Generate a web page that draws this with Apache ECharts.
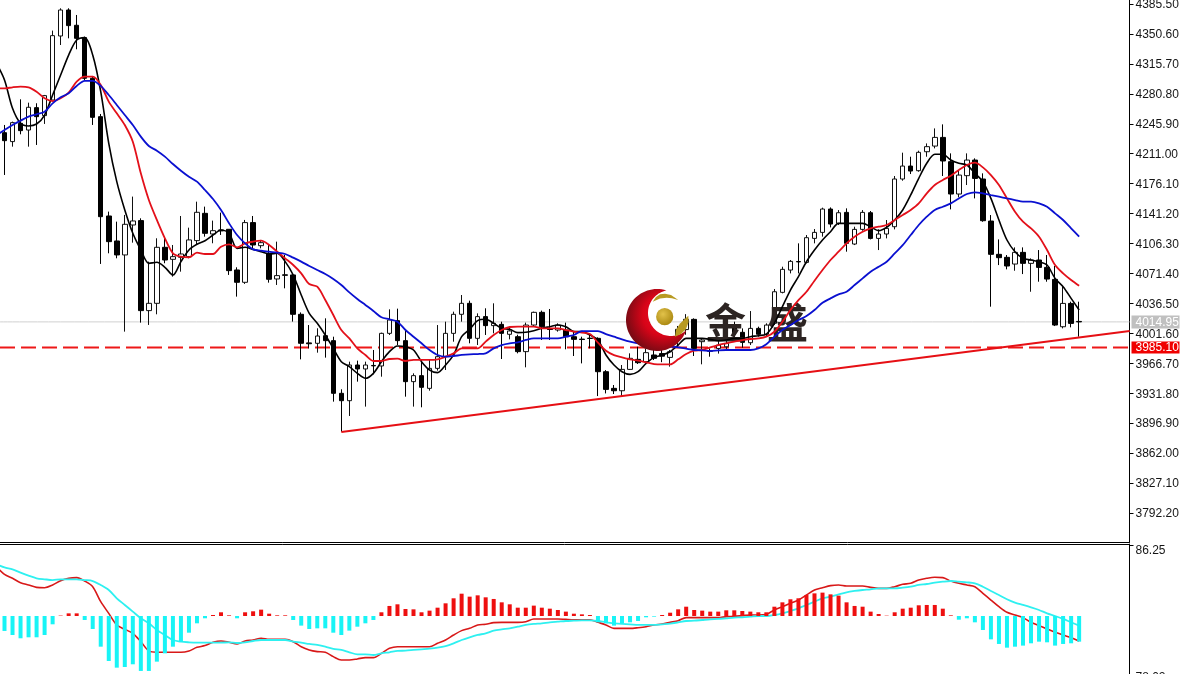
<!DOCTYPE html>
<html><head><meta charset="utf-8">
<style>html,body{margin:0;padding:0;background:#fff;overflow:hidden}#c{width:1180px;height:674px}</style>
<script src="https://cdn.jsdelivr.net/npm/echarts@6/dist/echarts.min.js"></script>
</head><body><div id="c"></div>
<script>
const priceTicks=[4385.5,4350.6,4315.7,4280.8,4245.9,4211,4176.1,4141.2,4106.3,4071.4,4036.5,4001.6,3966.7,3931.8,3896.9,3862,3827.1,3792.2];
const bidPrice=4014.95;
const alertPrice=3985.10;
const macdTop=86.25;
const macdBottomTick=-68;
const macdBottomLabel="78.02";
const trendIdx=[43,141.3];
const trendVal=[3886.6,4004.3];
// [open, close, low, high]; the first bar lies just off the left edge
const candles=[
[4222,4230,4210,4240],
[4235.5,4226.2,4186.2,4244.5],[4225.1,4247.2,4219.2,4248.4],[4246.4,4237.9,4233.6,4274.4],[4238.6,4265.1,4219.2,4270.5],[4264.7,4254.2,4221.2,4269.8],
[4255.4,4278.7,4245.7,4279.5],[4273.6,4348.6,4273.6,4354.5],[4348.2,4378.5,4337.7,4380.5],[4378.5,4360.3,4345.5,4380.5],[4360.7,4345.5,4332.7,4372.7],
[4346.3,4298.9,4296.9,4347.5],[4298.9,4253.4,4244.5,4301.6],[4254.2,4137.6,4082.5,4257.3],[4138.4,4108.5,4094.9,4143.5],[4109.3,4093,4089.1,4131.8],
[4093,4128.7,4003.6,4139.6],[4127.9,4132.6,4107.3,4161],[4133,4028.1,4014.1,4135.7],[4028.1,4036.6,4011.4,4085.2],[4036.6,4101.9,4023.8,4112.4],
[4101.9,4087.1,4083.3,4114.3],[4087.9,4091,4067.7,4104.6],[4090.2,4094.1,4073.5,4138.4],[4091,4110.5,4089.1,4124.8],[4109.7,4142.7,4104.6,4155.1],
[4141.5,4118.2,4114.3,4149.3],[4117.4,4121.3,4106.6,4133],[4122.1,4121,4116.3,4142.3],[4122.9,4074.7,4069.7,4122.9],[4075.5,4061.1,4044.4,4078.6],
[4061.1,4130.7,4059.2,4133.8],[4130.7,4104.6,4100.7,4138.4],[4103.8,4107.3,4100.7,4110.5],[4094.9,4064.6,4060.7,4104.6],[4065,4068.9,4058,4108.5],
[4069.8,4069.3,4054.1,4093],[4069.7,4023.8,4015.3,4071.6],[4023.8,3990,3971.3,4026],[3990.5,3989.5,3984.1,4011.3],[3990,3998.5,3979.1,4007.5],
[3998.9,3993.1,3973.3,4019.1],[3993.1,3931.7,3922,3997.7],[3931.7,3923.1,3887,3936.4],[3923.1,3964.7,3905.3,3968.6],[3964.7,3960.1,3945.3,3969.8],
[3960.1,3964.7,3916.2,3968.6],[3964.2,3963.7,3953.8,3982.2],[3963.6,4001.6,3951.1,4002.4],[4001.6,4017.2,3999.7,4029.6],[4016.4,3993.1,3988,4030.4],
[3993.1,3945.3,3927.8,4005.5],[3945.3,3952.3,3916.2,3955],[3952.3,3938.7,3915.4,3970.6],[3937.5,3960.8,3934.8,3970.6],[3960.8,3974.4,3958.1,4011.3],
[3974.4,4001.6,3958.9,4015.2],[4001.6,4023.8,3991.9,4026.9],[4023.8,4036.6,4015.2,4046.3],[4036.6,3995.8,3990,4039.7],[3995.8,4021.1,3988,4024.9],
[4021.1,4010.6,3999.7,4030.8],[4010.6,4013.3,4001.6,4036.6],[4012.1,4001.6,3971.7,4015.2],[4000.5,4004.4,3994.6,4009.4],[3997.7,3980.3,3978.3,4000],
[3980.3,4011.3,3962,4014.1],[4011.3,4026.1,4009.4,4026.9],[4026.1,4009.4,3993.9,4028.1],[4006.6,4006.1,3993.9,4030],[4005.5,4011.3,4003.6,4013.3],
[4005.5,3997.7,3983,4014.1],[3997.7,3994.6,3975.2,4003.6],[3994.9,3994.4,3966.6,3997.7],[3996,3995.6,3984.1,3999.7],[3995.8,3956.9,3928.5,3997],
[3956.9,3936.3,3931.6,3958.8],[3937.5,3934.7,3930.9,3941.4],[3934.7,3959.6,3928.5,3964.7],[3959.6,3972.5,3958.9,3978.3],[3971.3,3967.4,3965.9,3986],
[3968.6,3979.1,3966.6,3984.1],[3976.4,3972.5,3970.5,3982.2],[3978,3975,3968,3985],[3973.6,3980.2,3962.8,3982.2],[3997.7,4006.3,3985.3,4010.2],
[4006,4018,4000,4024],[4017.9,3984.1,3975.2,4019.1],[3991.9,3993.8,3965.5,3995.8],[3981.2,3980.8,3974.4,3984.1],[3984,3988,3978,3993],
[3986,3990,3982,4000],[4011.3,4002.4,3991.9,4015.2],[4002.8,3991.1,3984.9,4007.4],[3990.7,4007.4,3988,4027.6],[4007.4,4000.5,3997.7,4009.4],
[4000.5,4011.3,3997.7,4013.3],[4013.3,4050.1,4011.3,4053.3],[4049.4,4076.2,4048.2,4079.3],[4075.4,4085.5,4071.5,4087.1],[4085.3,4084.9,4071.5,4106.5],
[4084.3,4113.1,4083.2,4116.2],[4112.3,4119.3,4106.5,4123.2],[4119.3,4146.5,4114.3,4148.1],[4146.5,4129,4125.1,4148.4],[4129.8,4142.2,4127.9,4145.3],
[4142.6,4106.5,4096.8,4147.3],[4105.7,4122.8,4104.5,4125.9],[4122.8,4142.6,4121.2,4145.3],[4142.2,4112.3,4111.1,4144.2],[4112.3,4117.4,4098.7,4122.8],
[4117.4,4124,4112.3,4133.7],[4125.9,4181.5,4122.8,4185],[4181.5,4196.6,4179.5,4212.2],[4196.6,4190.8,4187.3,4207.5],[4191.2,4212.6,4190,4214.5],
[4213.3,4219.2,4207.5,4223],[4219.9,4230,4217.2,4240.5],[4230,4202.5,4185,4245.2],[4201.7,4164,4146.1,4211.4],[4164,4186.1,4160.1,4192],
[4185.4,4203.6,4174.5,4211.4],[4203.6,4182.2,4158.9,4205.6],[4181.5,4132.9,4131.7,4188.1],[4132.5,4093.7,4032.7,4139.5],[4093.7,4089.8,4081.2,4111.1],
[4090.2,4080.1,4076.2,4092.9],[4082.4,4096,4074.6,4101.8],[4096,4083.2,4070.7,4101.8],[4083.2,4087.1,4050.1,4089],[4087.1,4078.5,4061.8,4098.7],
[4078.5,4064.9,4061.8,4092.9],[4064.5,4011.3,4010.1,4080.1],[4009.3,4036.5,4007.4,4056],[4036.5,4013.2,4008.6,4038.5],[4015.5,4014.95,3997.7,4038.5]
];
const maFast=[4316.4,
4296.9,4263.9,4246.4,4243.3,4245.6,4256.1,4279.4,4302.7,4326,4343.5,4346.3,4326,4283.3,4223.1,4178.4,4145.4,4118.2,4098.8,4083.2,4084.4,
4078.6,4069.6,4085.2,4098.8,4105.4,4109.6,4116.2,4122.1,4118.2,4100.7,4101.9,4099.5,4096.8,4094.1,4094.9,4085.2,4069.6,4046.3,4024.9,4013.3,
3999.7,3984.1,3968.6,3962.8,3955,3949.2,3955,3968.6,3980.3,3986.9,3986.1,3982.2,3968.6,3958.9,3955.8,3964.7,3976.4,3997.7,4006.3,4016.4,
4018,4013.3,4007.5,4006.3,4002.4,4002.8,4004.7,4007.5,4009.4,4011.3,4009.4,4003.6,4003.6,3999.7,3993.8,3976.4,3964.7,3956.9,3953.8,3956.9,
3966.6,3973.6,3976.3,3980.2,3988,3995.7,3995.7,3995.7,3994.6,3993,3993.8,3995.7,3995.7,3997.7,3998.9,4000.8,4013.3,4032.7,4052.1,4067.7,
4085.1,4098.7,4110.4,4120.1,4129.8,4129.8,4129.8,4129.8,4125.9,4121.3,4125.1,4133.7,4145.4,4162.9,4182.3,4199.8,4210.3,4210.3,4203.6,4199.8,
4197.8,4188.1,4178.4,4158.9,4133.7,4110.4,4096.8,4089,4087.1,4085.1,4081.2,4065.7,4056,4042.4,4028.8];
const maMid=[4287.2,
4287.2,4288.4,4289.1,4288.4,4283.3,4275.6,4272.4,4275.6,4282.2,4295,4300.8,4300.8,4291.1,4271.7,4258.1,4244.5,4225,4188.1,4157,4133.8,
4112.4,4094.9,4091,4090.2,4095.6,4094.1,4094.1,4102.6,4105.4,4101.9,4106.5,4108.5,4109.6,4104.6,4096.8,4089,4081.3,4071.6,4059.1,4056,
4040.5,4023,4005.5,3995.8,3984.1,3976.4,3969.4,3969.4,3971.7,3972.1,3969.4,3970.6,3970.6,3970.6,3971.3,3974.4,3978.3,3984.1,3984.1,3984.1,
3991.9,3999.7,4005.5,4009,4009.4,4009.4,4009.4,4007.5,4007.5,4007.5,4005.5,4003.6,4002.4,4000.8,3990.7,3981.4,3976.3,3973.6,3971.3,3969.7,
3967.8,3965.8,3965.4,3965.4,3971.3,3977.5,3981.4,3982.2,3985.3,3988,3990,3991.9,3993.8,3995,3995.7,3997.7,4003.5,4015.2,4028.8,4040.4,
4050.1,4063,4075.4,4087.1,4096.8,4106.5,4114.3,4120.1,4124,4125.9,4127.9,4133.7,4139.5,4145.4,4153.1,4164.8,4174.5,4180.3,4185.4,4192,
4197.8,4200.5,4195.1,4186.1,4174.5,4158.9,4143.4,4131.7,4124,4114.3,4098.7,4081.2,4071.5,4063.8,4057.1];
const maSlow=[4232.8,
4238.6,4244.5,4249.5,4254.2,4256.9,4260,4269.7,4276.7,4281.4,4290,4295.8,4295.8,4290,4279.4,4267.8,4256.1,4244.5,4230.9,4220,4214.5,
4207.6,4199,4191.2,4184.2,4178.4,4168.7,4158.2,4145.4,4129.9,4116.2,4106.5,4099.5,4098,4096.8,4095.7,4094.1,4089.8,4085.2,4080.1,4075.4,
4070.8,4065,4058,4049.4,4041.7,4034.7,4027.7,4020.3,4018,4015.2,4005.5,3997.7,3990,3982.2,3976.4,3974.4,3975.2,3976.4,3977.2,3977.5,
3978.3,3984.1,3988,3990,3991.1,3993.9,3995.8,3995.8,3995.8,3995.8,3997.7,3999.7,4004.3,4004.3,4004.3,4000.8,3997.7,3994.6,3991.9,3990,
3989.2,3988,3986.9,3986,3985.3,3983.7,3982.2,3981.8,3981,3981.8,3982.2,3982.2,3982.2,3982.2,3984.1,3989,3997.7,4005.5,4011.3,4017.1,
4021.8,4028.8,4037.3,4042.4,4047,4050.1,4057.9,4065.7,4073.5,4079.3,4085.1,4094.8,4104.5,4116.2,4127.9,4137.6,4145.4,4149.2,4153.1,4158.9,
4164,4166,4164.8,4162.8,4160.9,4158.9,4157,4155.1,4155.1,4153.1,4149.2,4141.5,4133.7,4124,4114.3];
const macdHist=[-14,
-18.2,-23.1,-27.1,-25.9,-25.9,-23.1,-10.1,0.5,3.2,3.2,-4.9,-15.8,-37.3,-54.7,-62.8,-62,-58.7,-66.8,-66.8,-55.5,
-45.4,-37.3,-31.2,-20.3,-8.9,-2.8,1.2,4.5,0.8,-2.8,4.5,5.7,7.7,2.8,0.8,0.8,-4.9,-11.7,-15.8,-15,
-15,-20.3,-23.1,-17.8,-13,-8.9,-4.9,4.5,12.2,14.2,8.5,8.1,4.5,6.5,10.1,15.4,21.5,27.1,23.5,25.1,
22.7,20.7,16.6,14.2,10.1,10.1,12.6,10.1,8.9,7.3,5.3,2.8,2,1.2,-7.7,-8.9,-11.7,-8.9,-7.7,-6.1,
-1.6,-0.8,1.2,4,8.1,11.3,7.3,6.5,5.3,5.3,6.9,6.9,6.1,5.3,4.5,4.5,11.3,16.6,20.3,21.5,
25.5,27.5,28.4,26.3,24.7,16.6,12.2,11.3,5.3,2.4,0.4,4.5,8.9,10.1,13,13.4,13.4,8.9,0.8,-4.5,
-2.8,-7.7,-17,-28.4,-34,-38.5,-37.3,-36,-33.2,-31.2,-32,-36,-34,-33.2,-31.2];
const macdRed=[60,
50.6,45.8,40.5,37.7,34.8,34.4,37.7,42.9,45.8,46.6,42.5,35.6,17.4,3.2,-10.9,-16.2,-21.1,-31.2,-42.5,-44.1,
-44.1,-44.1,-44.1,-42.5,-38.1,-36,-32,-30.4,-32,-34,-30.4,-29.2,-27.1,-28.4,-28.4,-28.4,-31.2,-37.3,-41.3,-43.3,
-44.1,-49.4,-53.5,-53.5,-52.2,-50.6,-50.6,-45.4,-39.3,-37.3,-37.3,-37.3,-37.3,-37.3,-33.2,-29.2,-23.1,-17.8,-15,-10.9,
-10.1,-8.1,-7.7,-7.7,-7.7,-6.9,-3.6,-3.6,-3.6,-3.6,-4.1,-4.5,-4.5,-4.5,-7.7,-10.9,-15,-15,-15,-14.2,
-13,-10.9,-9.7,-7.7,-5.7,-2,-2,-2,-2,-2,-0.8,-0.4,0.4,1.2,1.2,2,7.3,11.3,15.4,19.4,
25.5,31.6,34.4,36.9,37.7,36.5,36.5,36.5,34.8,33.6,33.6,35.6,38.5,39.7,43.7,45.8,47,46.6,42.5,39.7,
37.7,35.6,27.5,19.4,11.3,4.5,1.2,-2,-7.7,-11.7,-15.8,-19.8,-23.1,-26.3,-30.4];
const macdCyan=[62.8,
59.1,56.7,52.7,49,45.8,44.6,43.7,44.6,44.6,44.6,43.7,42.5,37.7,31.6,21.5,13.4,5.3,-2.8,-8.9,-17,
-23.1,-29.2,-31.2,-32,-32.4,-32.4,-32.4,-32.4,-32,-32.8,-32,-30.4,-29.2,-29.2,-29.2,-29.2,-31.2,-32.4,-34,-35.2,
-37.3,-40.1,-41.3,-44.1,-46.6,-46.6,-47.4,-45.4,-44.1,-42.5,-42.1,-41.3,-40.5,-39.7,-38.5,-36.5,-33.2,-29.2,-25.9,-23.1,
-21.1,-17.8,-16.2,-15,-13,-10.9,-9.7,-8.9,-7.7,-6.9,-6.1,-5.7,-5.3,-5.3,-6.1,-7.7,-8.9,-9.7,-10.1,-10.9,
-10.9,-10.9,-10.1,-9.3,-7.7,-6.1,-5.7,-4.9,-4.1,-3.6,-2.8,-2,-1.6,-0.8,0,0,1.2,3.2,6.1,9.3,
13.4,17.4,21.5,23.5,26.3,28.8,30.4,31.6,32.4,33.6,33.6,33.6,34.4,35.6,37.7,38.9,40.5,41.7,42.5,41.7,
40.9,39.7,35.6,30.4,25.5,20.3,16.2,13.4,10.5,7.3,3.2,0,-3.6,-7.7,-11.7];

const xMin=0.439,xMax=141.28;
const pairs=a=>a.map((v,i)=>[i,v]);
const font='"Liberation Sans",Arial,sans-serif';
const line=(data,color,width,x,z)=>({type:'line',xAxisIndex:x,yAxisIndex:x,data,showSymbol:false,symbol:'none',smooth:0.3,z,silent:true,animation:false,lineStyle:{color,width}});
const chart=echarts.init(document.getElementById('c'),null,{renderer:'canvas'});
// logo crescent outline: big circle with a smaller circle bitten out
function crescent(cx,cy,R,wx,wy,r){
 const d=Math.hypot(wx-cx,wy-cy),a=Math.atan2(wy-cy,wx-cx),pts=[];
 const b=Math.acos((d*d+R*R-r*r)/(2*d*R)),g=Math.acos((d*d+r*r-R*R)/(2*d*r)),a2=a+Math.PI,N=60;
 for(let k=0;k<=N;k++){const t=a+b+(2*Math.PI-2*b)*k/N;pts.push([cx+R*Math.cos(t),cy+R*Math.sin(t)]);}
 for(let k=0;k<=N;k++){const t=a2+g-2*g*k/N;pts.push([wx+r*Math.cos(t),wy+r*Math.sin(t)]);}
 return pts;
}
const labelRich={n:{color:'#151515',fontFamily:font,fontSize:12,padding:[2,0,0,4]},
  g:{backgroundColor:'#c0c0c0',color:'#fff',fontFamily:font,fontSize:12,padding:[1,0,0,4],width:44,height:12},
  r:{backgroundColor:'#f00000',color:'#fff',fontFamily:font,fontSize:12,padding:[0,0,0,4],width:44,height:12}};
chart.setOption({
 animation:false,backgroundColor:'#fff',
 grid:[{left:0,top:0,width:1129.5,height:542,outerBoundsMode:'none'},{left:0,top:544,width:1129.5,height:136,outerBoundsMode:'none'}],
 xAxis:[
  {gridIndex:0,type:'value',min:xMin,max:xMax,axisLabel:{show:false},axisTick:{show:false},splitLine:{show:false},axisLine:{onZero:false,lineStyle:{color:'#000',width:1}}},
  {gridIndex:1,type:'value',position:'top',min:xMin,max:xMax,axisLabel:{show:false},axisTick:{show:false},splitLine:{show:false},axisLine:{onZero:false,lineStyle:{color:'#000',width:1}}}
 ],
 yAxis:[
  {gridIndex:0,type:'value',position:'right',min:3758.4,max:4390.16,splitLine:{show:false},
   axisLine:{show:true,lineStyle:{color:'#000'}},
   axisTick:{show:true,length:4,customValues:priceTicks,lineStyle:{color:'#000'}},
   axisLabel:{show:true,customValues:[...priceTicks,bidPrice,alertPrice],hideOverlap:false,margin:2,
    formatter:v=>v===bidPrice?`{g|${v.toFixed(2)}}`:v===alertPrice?`{r|${v.toFixed(2)}}`:`{n|${v.toFixed(2)}}`,
    rich:labelRich}},
  {gridIndex:1,type:'value',position:'right',min:-77.8,max:87.5,splitLine:{show:false},
   axisLine:{show:true,lineStyle:{color:'#000'}},
   axisTick:{show:true,length:4,customValues:[macdTop],lineStyle:{color:'#000'}},
   axisLabel:{show:true,customValues:[macdTop,macdBottomTick],hideOverlap:false,margin:6,fontFamily:font,fontSize:12,color:'#151515',verticalAlign:'top',
    formatter:v=>v===macdTop?v.toFixed(2):macdBottomLabel}}
 ],
 graphic:[
  {type:'text',z:2.5,silent:true,style:{x:705,y:302,text:'金',font:'700 41px "Noto Sans CJK SC"',fill:'#2c2422'}},
  {type:'text',z:2.5,silent:true,style:{x:767,y:302,text:'盛',font:'700 41px "Noto Sans CJK SC"',fill:'#2c2422'}},
  {type:'circle',z:50,silent:true,shape:{cx:661,cy:316,r:12},style:{fill:'#fff'}},
  {type:'polygon',z:51,silent:true,shape:{points:crescent(657,320,31,671,313,23)},style:{fill:new echarts.graphic.RadialGradient(0.62,0.42,0.62,[{offset:0,color:'#f01028'},{offset:0.55,color:'#d80418'},{offset:1,color:'#7c0a14'}])}},
  {type:'circle',z:52,silent:true,shape:{cx:664.7,cy:316.7,r:8.6},style:{fill:new echarts.graphic.RadialGradient(0.4,0.35,0.7,[{offset:0,color:'#e2c24a'},{offset:1,color:'#a8860f'}])}},
  {type:'polygon',z:52,silent:true,shape:{points:[[652.7,301.7],[656,297],[660,294.3],[665,293.8],[671,295],[678.3,300],[672,298.3],[666.7,297.7],[660,298.5]]},style:{fill:'#b89a22'}},
  {type:'polygon',z:52,silent:true,shape:{points:[[688.3,315.7],[688.6,322],[686,329],[681,334],[675,336.7],[676,330],[680,323.5]]},style:{fill:'#b89a22'}}
 ],
 series:[
  line([[xMin,bidPrice],[xMax,bidPrice]],'#d0d0d0',1,0,1),
  {type:'line',xAxisIndex:0,yAxisIndex:0,data:[[xMin,alertPrice],[xMax,alertPrice]],showSymbol:false,symbol:'none',z:1,silent:true,
   lineStyle:{color:'#ee1818',width:1.8,type:[15,6]},itemStyle:{color:'#ee1818'}},
  {type:'candlestick',xAxisIndex:0,yAxisIndex:0,silent:true,z:2,barWidth:5,
   encode:{x:0,y:[1,2,3,4]},
   data:candles.map((c,i)=>[i,...c]),
   itemStyle:{color:'#fff',color0:'#000',borderColor:'#111',borderColor0:'#000',borderWidth:1}},
  line(pairs(maFast),'#000',1.6,0,3),
  line(pairs(maMid),'#e3101a',1.8,0,4),
  line(pairs(maSlow),'#0a10d0',1.8,0,4),
  line(trendIdx.map((x,i)=>[x,trendVal[i]]),'#e60f14',2,0,5),
  line(pairs(macdRed),'#d81818',1.6,1,2),
  line(pairs(macdCyan),'#2ef0f0',1.8,1,2),
  {type:'bar',xAxisIndex:1,yAxisIndex:1,silent:true,z:3,barWidth:4,data:pairs(macdHist),
   itemStyle:{color:p=>p.value[1]>=0?'#ee0f0f':'#18f4f6'}}
 ]
});
</script></body></html>
